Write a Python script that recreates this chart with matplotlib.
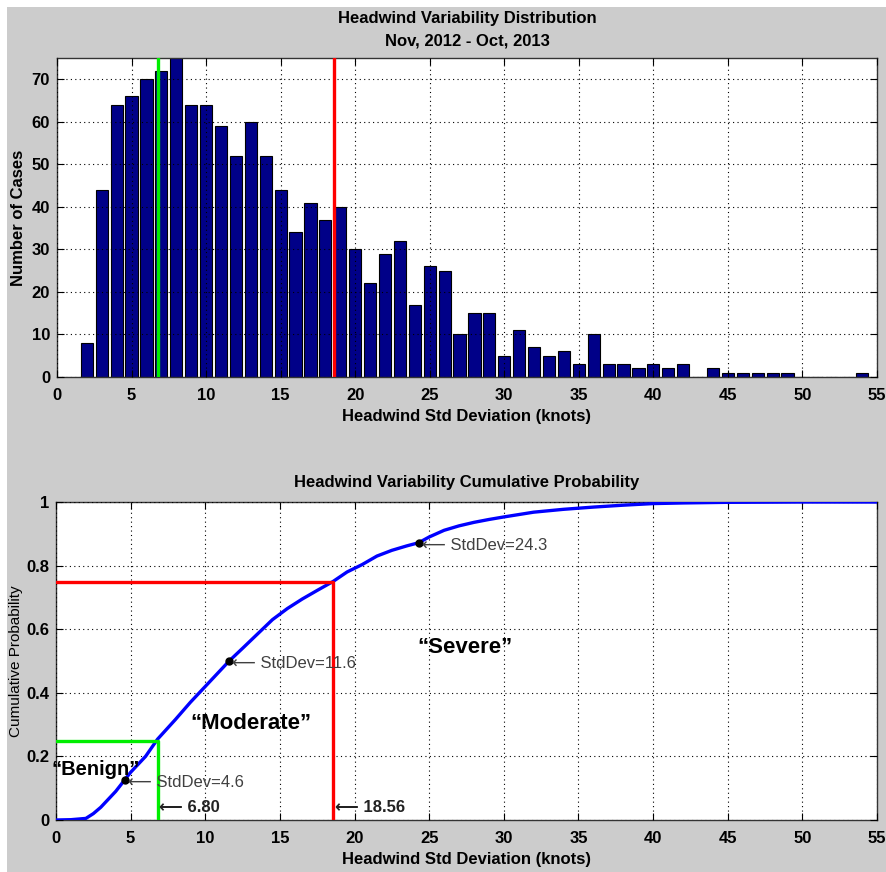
import numpy as np
import matplotlib
matplotlib.use('Agg')
import matplotlib.pyplot as plt
from matplotlib.patches import Rectangle

plt.rcParams['font.family'] = ['Liberation Sans', 'DejaVu Sans']

# histogram data (bin centres in knots, counts)
bin_centers = list(range(2, 55))
counts = [8, 44, 64, 66, 70, 72, 77, 64, 64, 59, 52, 60, 52, 44, 34, 41, 37, 40,
          30, 22, 29, 32, 17, 26, 25, 10, 15, 15, 5, 11, 7, 5, 6, 3, 10, 3, 3,
          2, 3, 2, 3, 0, 2, 1, 1, 1, 1, 1, 0, 0, 0, 0, 1]

# cumulative probability curve
cdf_x = [0, 1, 2, 2.5, 3, 3.5, 4, 4.6, 5, 6, 6.8, 8, 9, 10, 11, 11.6, 12.5,
         13.5, 14.5, 15.5, 16.5, 17.5, 18.56, 19.5, 20.5, 21.5, 22.5, 23.5,
         24.3, 25, 26, 27, 28, 29, 30, 32, 34, 36, 38, 40, 42, 45, 50, 55]
cdf_y = [0, 0.001, 0.005, 0.02, 0.04, 0.065, 0.09, 0.126, 0.15, 0.2, 0.254,
         0.316, 0.37, 0.42, 0.47, 0.5, 0.54, 0.585, 0.63, 0.665, 0.695, 0.722,
         0.75, 0.78, 0.803, 0.83, 0.848, 0.862, 0.872, 0.89, 0.911, 0.925,
         0.936, 0.945, 0.953, 0.968, 0.977, 0.984, 0.99, 0.995, 0.997, 0.999,
         1.0, 1.0]

p25, p75 = 6.80, 18.56
marks = [(4.6, 0.126, 'StdDev=4.6'), (11.6, 0.5, 'StdDev=11.6'),
         (24.3, 0.872, 'StdDev=24.3')]
regions = [('\u201cBenign\u201d', -0.3, 0.16, 14.5),
           ('\u201cModerate\u201d', 9.0, 0.305, 16),
           ('\u201cSevere\u201d', 24.2, 0.544, 16)]

gray = '#cccccc'
W, H = 886, 872
fig = plt.figure(figsize=(W/100, H/100), dpi=100, facecolor='white')
fig.patches.append(Rectangle((7/W, 0), 1, 1 - 7/H, transform=fig.transFigure,
                             facecolor=gray, edgecolor='none', zorder=-10))


def style(ax):
    ax.set_xlim(0, 55)
    ax.set_xticks(range(0, 56, 5))
    ax.grid(True, color='black', linestyle=(0, (1, 3)), linewidth=0.8)
    ax.set_axisbelow(False)
    ax.tick_params(direction='in', top=True, right=True, length=5, width=0.8,
                   labelsize=12)
    ax.tick_params(axis='x', pad=8)
    ax.tick_params(axis='y', pad=5)
    for lab in ax.get_xticklabels() + ax.get_yticklabels():
        lab.set_fontweight('bold')
    for s in ax.spines.values():
        s.set_linewidth(1.0)
        s.set_color('#333333')


# ---- top: histogram
ax1 = fig.add_axes([57/W, 1 - 377/H, 820/W, 319/H])
ax1.bar(bin_centers, counts, width=0.82, color='#000088', edgecolor='black',
        linewidth=0.8, zorder=2)
ax1.axvline(p25, color='#00ee00', linewidth=2.4, zorder=3)
ax1.axvline(p75, color='#ff0000', linewidth=2.4, zorder=3)
ax1.set_ylim(0, 75)
ax1.set_yticks(range(0, 71, 10))
style(ax1)
ax1.set_title('Headwind Variability Distribution\nNov, 2012 - Oct, 2013',
              fontsize=12, fontweight='bold', pad=9, linespacing=1.6)
ax1.set_xlabel('Headwind Std Deviation (knots)', fontsize=12, fontweight='bold',
               labelpad=4)
ax1.set_ylabel('Number of Cases', fontsize=12, fontweight='bold', labelpad=4)

# ---- bottom: cumulative probability
ax2 = fig.add_axes([56/W, 1 - 820/H, 821/W, 318/H])
ax2.plot(cdf_x, cdf_y, color='#0000ff', linewidth=2.4, zorder=3)
ax2.plot([0, p75, p75], [0.75, 0.75, 0], color='#ff0000', linewidth=2.4, zorder=4)
ax2.plot([0, p25, p25], [0.25, 0.25, 0], color='#00ee00', linewidth=2.4, zorder=4)
ax2.set_ylim(0, 1)
ax2.set_yticks([0, 0.2, 0.4, 0.6, 0.8, 1])
ax2.set_yticklabels(['0', '0.2', '0.4', '0.6', '0.8', '1'])
style(ax2)
ax2.set_title('Headwind Variability Cumulative Probability', fontsize=12,
              fontweight='bold', pad=11)
ax2.set_xlabel('Headwind Std Deviation (knots)', fontsize=12, fontweight='bold',
               labelpad=4)
ax2.set_ylabel('Cumulative Probability', fontsize=11, labelpad=2)

for x, y, t in marks:
    ax2.plot(x, y, 'o', color='black', markersize=5, zorder=5)
    ax2.text(x + 0.2, y - 0.008, '\u27f5 ' + t, fontsize=12, color='#404040',
             ha='left', va='center', zorder=6)

for x in (p25, p75):
    ax2.text(x + 0.1, 0.04, '\u27f5 ' + '%.2f' % x, fontsize=12, fontweight='bold',
             color='#222222', ha='left', va='center', zorder=6)

for t, x, y, fs in regions:
    ax2.text(x, y, t, fontsize=fs, fontweight='bold', ha='left', va='center',
             clip_on=False, zorder=7)

plt.savefig('out.png', dpi=100, facecolor=fig.get_facecolor())
